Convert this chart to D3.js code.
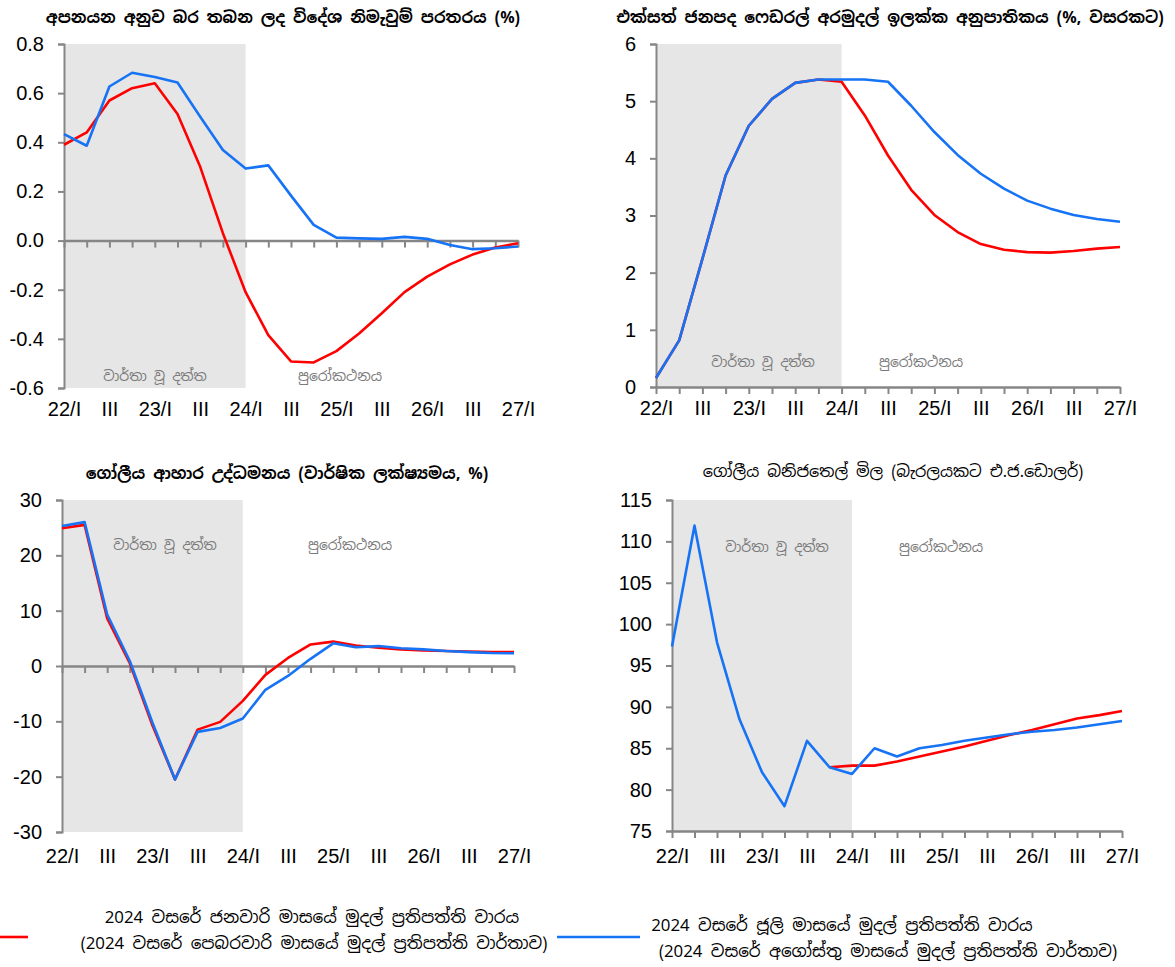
<!DOCTYPE html>
<html>
<head>
<meta charset="utf-8">
<script src="https://cdn.jsdelivr.net/npm/d3@7"></script>
<style>
  html, body { margin: 0; padding: 0; background: #fff; }
  svg { display: block; }
  .sin { font-family: "Noto Sans Sinhala", "Iskoola Pota", "Noto Sans", "DejaVu Sans", sans-serif; }
  .num { font-family: "Liberation Sans", Arial, sans-serif; }
</style>
</head>
<body>
<svg id="chart" width="1175" height="967"></svg>
<script>
// ---------- DATA ----------
const quarters = ["22Q1","22Q2","22Q3","22Q4","23Q1","23Q2","23Q3","23Q4","24Q1","24Q2","24Q3","24Q4",
                  "25Q1","25Q2","25Q3","25Q4","26Q1","26Q2","26Q3","26Q4","27Q1"];
const xTickLabels = ["22/I","","III","","23/I","","III","","24/I","","III","","25/I","","III","","26/I","","III","","27/I"];

const titles = [
  "අපනයන අනුව බර තබන ලද විදේශ නිමැවුම් පරතරය (%)",
  "එක්සත් ජනපද ෆෙඩරල් අරමුදල් ඉලක්ක අනුපාතිකය (%, වසරකට)",
  "ගෝලීය ආහාර උද්ධමනය (වාර්ෂික ලක්ෂ්‍යමය, %)",
  "ගෝලීය බනිජතෙල් මිල (බැරලයකට එ.ජ.ඩොලර්)"
];
const actualLabel = "වාර්තා වූ දත්ත";
const forecastLabel = "පුරෝකථනය";

// Panel 1: foreign output gap
const gapJan = [0.39,0.44,0.57,0.62,0.64,0.515,0.30,0.03,-0.21,-0.385,-0.492,-0.496,-0.45,-0.378,-0.296,-0.21,-0.147,-0.097,-0.057,-0.028,-0.011];
const gapJul = [0.433,0.386,0.627,0.683,0.666,0.643,0.504,0.369,0.293,0.306,0.183,0.064,0.012,0.009,0.007,0.015,0.007,-0.018,-0.035,-0.031,-0.024];
const gapTicks = [-0.6,-0.4,-0.2,0.0,0.2,0.4,0.6,0.8];

// Panel 2: US fed funds target rate
const fedJan = [0.157,0.815,2.24,3.70,4.57,5.04,5.32,5.38,5.34,4.75,4.05,3.45,3.01,2.71,2.50,2.40,2.36,2.35,2.38,2.42,2.45];
const fedJul = [0.157,0.815,2.24,3.70,4.57,5.04,5.32,5.38,5.38,5.38,5.34,4.92,4.46,4.06,3.73,3.47,3.26,3.12,3.01,2.94,2.89];
const fedTicks = [0,1,2,3,4,5,6];

// Panel 3: global food inflation
const foodJan = [24.9,25.5,8.6,0.5,-10.7,-20.5,-11.5,-10.1,-6.3,-1.6,1.45,3.9,4.4,3.7,3.3,3.0,2.8,2.7,2.6,2.5,2.5];
const foodJul = [25.3,26.0,9.3,0.9,-10.2,-20.5,-11.9,-11.2,-9.5,-4.3,-1.8,1.3,4.1,3.4,3.6,3.2,3.0,2.7,2.5,2.35,2.3];
const foodTicks = [-30,-20,-10,0,10,20,30];

// Panel 4: global crude oil price
const oilJan = [null,null,null,null,null,null,null,82.7,82.9,82.9,83.4,84.0,84.6,85.2,85.9,86.6,87.2,87.9,88.6,89.0,89.5];
const oilJul = [97.3,111.9,97.8,88.5,82.1,78.0,85.9,82.7,81.9,85.0,84.0,85.0,85.4,85.9,86.3,86.7,87.0,87.2,87.5,87.9,88.3];
const oilTicks = [75,80,85,90,95,100,105,110,115];

const legendJan = ["2024 වසරේ ජනවාරි මාසයේ මුදල් ප්‍රතිපත්ති වාරය", "(2024 වසරේ  පෙබරවාරි මාසයේ මුදල් ප්‍රතිපත්ති වාර්තාව)"];
const legendJul = ["2024  වසරේ ජූලි මාසයේ මුදල් ප්‍රතිපත්ති වාරය", "(2024 වසරේ  අගෝස්තු මාසයේ මුදල් ප්‍රතිපත්ති වාර්තාව)"];

// ---------- STYLE ----------
const RED = "#ff0000", BLUE = "#1673f5", AXIS = "#868686", SHADE = "#e6e6e6";

const svg = d3.select("#chart");

function panel(cfg) {
  const g = svg.append("g");
  const x = d3.scaleLinear().domain([0, quarters.length - 1]).range([cfg.left, cfg.right]);
  const y = d3.scaleLinear().domain(cfg.domain).range([cfg.bottom, cfg.top]);

  // shaded actual-data area
  g.append("rect")
    .attr("x", x(0)).attr("y", y(cfg.domain[1]))
    .attr("width", x(8) - x(0)).attr("height", y(cfg.domain[0]) - y(cfg.domain[1]))
    .attr("fill", SHADE);

  // annotations
  g.append("text").attr("class", "sin").attr("x", cfg.annX[0]).attr("y", cfg.annY)
    .attr("text-anchor", "middle").attr("font-size", 14).attr("fill", "#7a7a7a").text(actualLabel);
  g.append("text").attr("class", "sin").attr("x", cfg.annX[1]).attr("y", cfg.annY)
    .attr("text-anchor", "middle").attr("font-size", 14).attr("fill", "#7a7a7a").text(forecastLabel);

  // y axis
  const ya = g.append("g").attr("transform", `translate(${cfg.left},0)`)
    .call(d3.axisLeft(y).tickValues(cfg.ticks).tickSize(6).tickPadding(14).tickFormat(cfg.fmt));
  ya.select(".domain").attr("stroke", AXIS).attr("stroke-width", 2);
  ya.selectAll(".tick line").attr("stroke", AXIS).attr("stroke-width", 2);
  ya.selectAll(".tick text").attr("class", "num").attr("font-size", 20).attr("fill", "#000");

  // x axis line with ticks at baseline
  const base = cfg.xAxisAt === undefined ? cfg.domain[0] : cfg.xAxisAt;
  const xa = g.append("g").attr("transform", `translate(0,${y(base)})`)
    .call(d3.axisBottom(x).tickValues(d3.range(quarters.length)).tickSize(7).tickSizeOuter(0).tickFormat(""));
  xa.select(".domain").attr("stroke", AXIS).attr("stroke-width", 2.5);
  xa.selectAll(".tick line").attr("stroke", AXIS).attr("stroke-width", 2);

  // x tick labels at bottom
  const xl = g.append("g").attr("transform", `translate(0,${cfg.bottom})`)
    .call(d3.axisBottom(x).tickValues(d3.range(quarters.length)).tickSize(0).tickPadding(cfg.labPad)
      .tickFormat(i => xTickLabels[i]));
  xl.select(".domain").remove();
  xl.selectAll(".tick text").attr("class", "num").attr("font-size", 20).attr("fill", "#000");

  // lines
  const line = d3.line().defined(d => d != null).x((d, i) => x(i)).y(d => y(d));
  g.append("path").datum(cfg.red).attr("fill", "none").attr("stroke", RED)
    .attr("stroke-width", 2.6).attr("stroke-linejoin", "round").attr("d", line);
  g.append("path").datum(cfg.blue).attr("fill", "none").attr("stroke", BLUE)
    .attr("stroke-width", 2.6).attr("stroke-linejoin", "round").attr("d", line);

  // title
  g.append("text").attr("class", "sin").attr("x", cfg.titleX).attr("y", cfg.titleY)
    .attr("text-anchor", "middle").attr("font-size", 16).attr("font-weight", cfg.bold ? "bold" : "normal")
    .attr("fill", "#000").text(cfg.title);
}

panel({ left: 64, right: 518, top: 44, bottom: 388, domain: [-0.6, 0.8], ticks: gapTicks,
  fmt: d => d.toFixed(1), xAxisAt: 0, red: gapJan, blue: gapJul, labPad: 14,
  annX: [155, 340], annY: 381, title: titles[0], titleX: 283, titleY: 23, bold: true });

panel({ left: 656, right: 1120, top: 44, bottom: 387, domain: [0, 6], ticks: fedTicks,
  fmt: d => String(d), red: fedJan, blue: fedJul, labPad: 14,
  annX: [763, 921], annY: 367, title: titles[1], titleX: 890, titleY: 23, bold: true });

panel({ left: 62, right: 514, top: 500, bottom: 832, domain: [-30, 30], ticks: foodTicks,
  fmt: d => String(d), xAxisAt: 0, red: foodJan, blue: foodJul, labPad: 17,
  annX: [165, 350], annY: 550, title: titles[2], titleX: 287, titleY: 479, bold: true });

panel({ left: 672, right: 1122, top: 500, bottom: 831, domain: [75, 115], ticks: oilTicks,
  fmt: d => String(d), red: oilJan, blue: oilJul, labPad: 18,
  annX: [777, 941], annY: 552, title: titles[3], titleX: 893, titleY: 477, bold: false });

// ---------- LEGEND ----------
const lg = svg.append("g");
lg.append("line").attr("x1", 0).attr("x2", 28).attr("y1", 937).attr("y2", 937)
  .attr("stroke", RED).attr("stroke-width", 2.6);
lg.append("line").attr("x1", 557).attr("x2", 640).attr("y1", 937).attr("y2", 937)
  .attr("stroke", BLUE).attr("stroke-width", 2.6);
lg.selectAll("text.j").data(legendJan).enter().append("text").attr("class", "sin")
  .attr("x", (d, i) => i === 0 ? 312 : 314).attr("y", (d, i) => 923 + i * 26)
  .attr("text-anchor", "middle").attr("font-size", 16.8).attr("fill", "#000").text(d => d);
lg.selectAll("text.u").data(legendJul).enter().append("text").attr("class", "sin")
  .attr("x", (d, i) => i === 0 ? 842 : 888).attr("y", (d, i) => 931 + i * 26)
  .attr("text-anchor", "middle").attr("font-size", 16.8).attr("fill", "#000").text(d => d);
</script>
</body>
</html>
